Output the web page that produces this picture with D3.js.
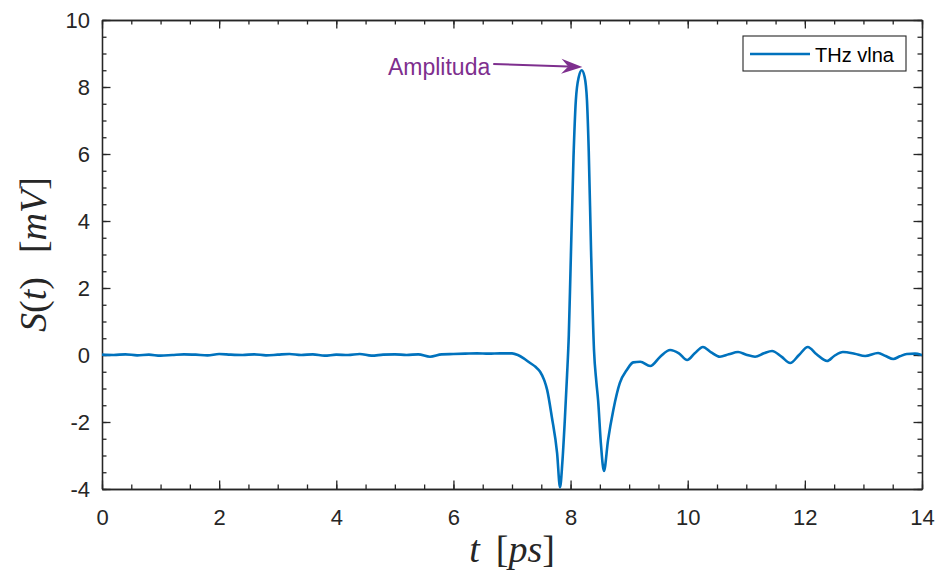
<!DOCTYPE html>
<html>
<head>
<meta charset="utf-8">
<script src="https://cdn.jsdelivr.net/npm/d3@7"></script>
<style>
  body { margin: 0; background: #fff; }
  svg { display: block; }
  .tick text { font-family: "Liberation Sans", Arial, sans-serif; font-size: 22px; fill: #262626; }
  .axis path, .axis line { stroke: #262626; stroke-width: 1.3; }
</style>
</head>
<body>
<div id="chart"></div>
<script>
// time axis [ps]
const tPs = [
  0.0, 0.2, 0.4, 0.6, 0.8, 1.0, 1.2, 1.4, 1.6, 1.8,
  2.0, 2.2, 2.4, 2.6, 2.8, 3.0, 3.2, 3.4, 3.6, 3.8,
  4.0, 4.2, 4.4, 4.6, 4.8, 5.0, 5.2, 5.4, 5.6, 5.8,
  6.0, 6.2, 6.4, 6.6, 6.8, 7.0, 7.1, 7.2, 7.31, 7.4,
  7.48, 7.55, 7.6, 7.68, 7.77, 7.82, 7.86, 7.9, 7.94, 7.97,
  8.0, 8.05, 8.09, 8.14, 8.19, 8.24, 8.28, 8.31, 8.35, 8.4,
  8.44, 8.47, 8.52, 8.57, 8.64, 8.73, 8.84, 8.96, 9.07, 9.19,
  9.36, 9.53, 9.7, 9.85, 9.99, 10.12, 10.26, 10.4, 10.55, 10.7,
  10.86, 11.0, 11.15, 11.3, 11.44, 11.6, 11.75, 11.9, 12.05, 12.2,
  12.38, 12.5, 12.65, 12.85, 13.03, 13.25, 13.38, 13.51, 13.62, 13.74,
  13.88, 14.0
];
// signal S(t) [mV]
const sMv = [
  0.01, 0.00, 0.02, -0.01, 0.01, -0.02, 0.00, 0.02, 0.01, -0.01,
  0.03, 0.01, 0.00, 0.02, -0.01, 0.01, 0.03, 0.00, 0.02, -0.02,
  0.01, 0.00, 0.03, -0.02, 0.01, 0.02, 0.00, 0.02, -0.05, 0.02,
  0.03, 0.04, 0.05, 0.04, 0.05, 0.05, 0.0, -0.1, -0.24, -0.35,
  -0.5, -0.75, -1.04, -1.85, -2.93, -3.95, -3.2, -2.0, -0.6, 0.6,
  2.6, 5.9, 7.6, 8.3, 8.5, 8.3, 7.6, 6.1, 3.1, 0.15,
  -0.8, -1.35, -2.7, -3.46, -2.54, -1.64, -0.84, -0.45, -0.22, -0.2,
  -0.33, -0.05, 0.15, 0.05, -0.15, 0.05, 0.24, 0.08, -0.05, 0.02,
  0.09, 0.01, -0.05, 0.05, 0.12, -0.05, -0.24, 0.0, 0.24, 0.02,
  -0.18, -0.03, 0.09, 0.04, -0.03, 0.06, -0.03, -0.12, -0.04, 0.03,
  0.04, 0.0
];

const xTicks = [0, 2, 4, 6, 8, 10, 12, 14];
const yTicks = [-4, -2, 0, 2, 4, 6, 8, 10];
const seriesName = "THz vlna";
const annotText = "Amplituda";
const annotFrom = [6.68, 8.69];
const annotTo = [8.2, 8.6];

const width = 936, height = 573;
const margin = { top: 20, right: 14, bottom: 84, left: 102 };
const innerW = width - margin.left - margin.right;
const innerH = height - margin.top - margin.bottom;

const svg = d3.select("#chart").append("svg")
    .attr("width", width)
    .attr("height", height);

const g = svg.append("g")
    .attr("transform", `translate(${margin.left},${margin.top})`);

const x = d3.scaleLinear().domain([0, 14]).range([0, innerW]);
const y = d3.scaleLinear().domain([-4, 10]).range([innerH, 0]);

const xMinor = d3.range(0, 14.001, 0.5);
const yMinor = d3.range(-4, 10.001, 0.5);

// minor ticks on all four sides
g.append("g").attr("class", "axis").attr("transform", `translate(0,${innerH})`)
    .call(d3.axisBottom(x).tickValues(xMinor).tickSize(-4.5).tickSizeOuter(0).tickFormat(""));
g.append("g").attr("class", "axis")
    .call(d3.axisTop(x).tickValues(xMinor).tickSize(-4.5).tickSizeOuter(0).tickFormat(""));
g.append("g").attr("class", "axis")
    .call(d3.axisLeft(y).tickValues(yMinor).tickSize(-4.5).tickSizeOuter(0).tickFormat(""));
g.append("g").attr("class", "axis").attr("transform", `translate(${innerW},0)`)
    .call(d3.axisRight(y).tickValues(yMinor).tickSize(-4.5).tickSizeOuter(0).tickFormat(""));

// major ticks
g.append("g").attr("class", "axis").attr("transform", `translate(0,${innerH})`)
    .call(d3.axisBottom(x).tickValues(xTicks).tickSize(-8.5).tickSizeOuter(0).tickPadding(20).tickFormat(d => String(d)));
g.append("g").attr("class", "axis")
    .call(d3.axisTop(x).tickValues(xTicks).tickSize(-8.5).tickSizeOuter(0).tickFormat(""));
g.append("g").attr("class", "axis")
    .call(d3.axisLeft(y).tickValues(yTicks).tickSize(-8.5).tickSizeOuter(0).tickPadding(12).tickFormat(d => String(d)));
g.append("g").attr("class", "axis").attr("transform", `translate(${innerW},0)`)
    .call(d3.axisRight(y).tickValues(yTicks).tickSize(-8.5).tickSizeOuter(0).tickFormat(""));

// clip
g.append("clipPath").attr("id", "clip")
  .append("rect").attr("width", innerW).attr("height", innerH);

const points = tPs.map((t, i) => [t, sMv[i]]);

const line = d3.line()
    .x(d => x(d[0]))
    .y(d => y(d[1]))
    .curve(d3.curveMonotoneX);

g.append("path")
    .datum(points)
    .attr("clip-path", "url(#clip)")
    .attr("fill", "none")
    .attr("stroke", "#0072BD")
    .attr("stroke-width", 2.6)
    .attr("stroke-linejoin", "round")
    .attr("d", line);

// annotation arrow
const purple = "#7E2F8E";
const x0 = x(annotFrom[0]), y0 = y(annotFrom[1]);
const x1 = x(annotTo[0]), y1 = y(annotTo[1]);
const len = Math.hypot(x1 - x0, y1 - y0);
const ux = (x1 - x0) / len, uy = (y1 - y0) / len;
const headL = 21, headW = 7.5, notch = 14;

g.append("line")
    .attr("x1", x0).attr("y1", y0)
    .attr("x2", x1 - ux * notch).attr("y2", y1 - uy * notch)
    .attr("stroke", purple)
    .attr("stroke-width", 2);

g.append("path")
    .attr("fill", purple)
    .attr("d", `M${x1},${y1}`
      + `L${x1 - ux * headL - uy * headW},${y1 - uy * headL + ux * headW}`
      + `L${x1 - ux * notch},${y1 - uy * notch}`
      + `L${x1 - ux * headL + uy * headW},${y1 - uy * headL - ux * headW}Z`);

g.append("text")
    .attr("x", x0 - 3)
    .attr("y", y0 + 11)
    .attr("text-anchor", "end")
    .style("font-family", "Liberation Sans, Arial, sans-serif")
    .style("font-size", "23px")
    .style("fill", purple)
    .text(annotText);

// legend
const legend = svg.append("g").attr("transform", "translate(743,36)");
legend.append("rect")
    .attr("width", 163).attr("height", 35)
    .attr("fill", "#fff")
    .attr("stroke", "#262626")
    .attr("stroke-width", 1.1);
legend.append("line")
    .attr("x1", 7).attr("x2", 67)
    .attr("y1", 18).attr("y2", 18)
    .attr("stroke", "#0072BD")
    .attr("stroke-width", 2.6);
legend.append("text")
    .attr("x", 72).attr("y", 25.5)
    .style("font-family", "Liberation Sans, Arial, sans-serif")
    .style("font-size", "20px")
    .style("fill", "#000")
    .text(seriesName);

// axis labels (latex style)
function mathLabel(sel, parts) {
  parts.forEach(p => {
    sel.append("tspan")
      .attr("dx", p.dx || 0)
      .style("font-style", p.it ? "italic" : "normal")
      .text(p.s);
  });
}

const xLabel = svg.append("text")
    .attr("x", margin.left + innerW / 2)
    .attr("y", 562)
    .attr("text-anchor", "middle")
    .style("font-family", "Liberation Serif, Times New Roman, serif")
    .style("font-size", "38px")
    .style("fill", "#262626");
mathLabel(xLabel, [
  { s: "t", it: true },
  { s: "[", dx: 16 },
  { s: "ps", it: true },
  { s: "]" }
]);

const yLabel = svg.append("text")
    .attr("transform", `translate(46,${margin.top + innerH / 2}) rotate(-90)`)
    .attr("text-anchor", "middle")
    .style("font-family", "Liberation Serif, Times New Roman, serif")
    .style("font-size", "38px")
    .style("fill", "#262626");
mathLabel(yLabel, [
  { s: "S", it: true },
  { s: "(" },
  { s: "t", it: true },
  { s: ")" },
  { s: "[", dx: 24 },
  { s: "mV", it: true },
  { s: "]" }
]);
</script>
</body>
</html>
